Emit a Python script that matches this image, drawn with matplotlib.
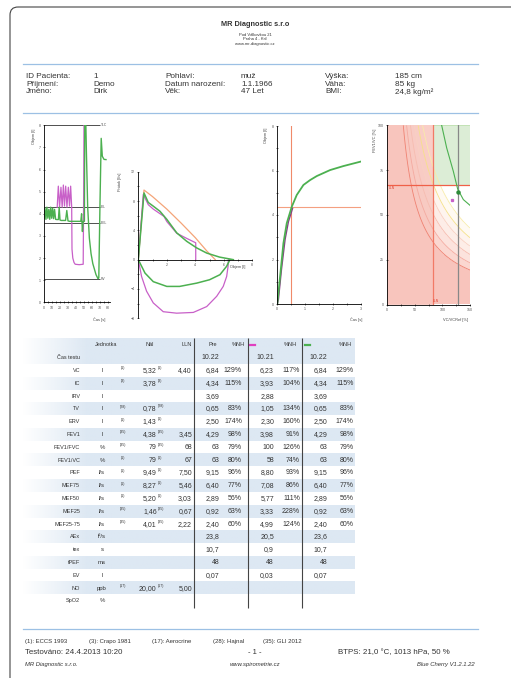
import numpy as np
import matplotlib.pyplot as plt
from matplotlib.patches import FancyBboxPatch

plt.rcParams['font.family'] = ['Liberation Sans', 'DejaVu Sans']

W, H = 511, 678

# ---- header data
company = "MR Diagnostic s.r.o"
address = ["Pod Válkovkou 21", "Praha 4 - Krč", "www.mr-diagnostic.cz"]
patient = [
    ["ID Pacienta:", "1", "Pohlaví:", "muž", "Výška:", "185 cm"],
    ["Příjmení:", "Demo", "Datum narození:", "1.1.1966", "Váha:", "85 kg"],
    ["Jméno:", "Dirk", "Věk:", "47 Let", "BMI:", "24,8 kg/m²"],
]

# ---- volume-time, whole test
vt_green_t = [0, 1.2, 2.4, 3.6, 4.8, 6, 7.2, 8.4, 9.6, 10.8, 12, 13.2, 14.5, 16, 18,
              19, 20, 21.5, 24, 27, 28.5, 30, 32, 36, 40, 44, 46, 47, 48, 49, 50.5,
              51, 52, 53, 54.6, 56.7, 58.8, 61, 63, 65, 67.5, 68.5, 70, 71.5, 72.9,
              75, 77.5]
vt_green_v = [3.8, 4.25, 3.75, 4.3, 3.8, 4.2, 3.75, 4.3, 3.8, 4.25, 3.78, 4.2, 3.75,
              3.74, 3.74, 4.3, 3.72, 3.7, 3.7, 3.7, 4.15, 3.68, 3.66, 3.66, 3.66, 3.66,
              3.66, 4.0, 3.2, 3.66, 3.66, 8.6, 8.6, 6.8, 4.3, 2.9, 2.2, 1.75, 1.5, 1.25,
              1.07, 1.1, 4.5, 7.41, 6.6, 6.46, 6.45]
vt_mag_t = [16.5, 17.9, 19.5, 21.2, 22.7, 24.2, 25.6, 27.1, 28.7, 30.4, 31.9, 33.3,
            34.6, 35.0, 36.0, 37.5, 39.0, 44.0, 49.0, 49.6, 50.0]
vt_mag_v = [4.3, 5.25, 4.3, 5.2, 4.3, 5.3, 4.35, 5.25, 4.3, 5.2, 4.35, 5.25, 4.3,
            2.4, 2.0, 1.8, 1.72, 1.7, 1.72, 5.0, 8.6]
vt_levels = [8.0, 4.3, 3.6, 1.05]
vt_level_names = ["TLC", "EIL", "EEL", "RV"]

# ---- flow-volume
fv_pred_vol = [0, 0.4, 1.0, 2.0, 3.0, 4.0, 4.8, 5.4]
fv_pred_flow = [0, 9.5, 8.6, 6.9, 5.0, 3.0, 1.2, 0.0]
fv_green_ex_vol = [0, 0.4, 0.7, 1.05, 1.52, 2.0, 2.7, 3.4, 4.1, 4.8, 5.7, 6.67]
fv_green_ex_flow = [0, 9.1, 7.8, 7.3, 6.6, 5.5, 3.65, 2.5, 1.6, 0.9, 0.35, 0]
fv_green_in_vol = [0, 0.47, 1.05, 2.0, 2.9, 4.1, 5.0, 5.73, 6.2, 6.43]
fv_green_in_flow = [0, -1.83, -3.0, -3.65, -3.65, -3.2, -2.74, -2.05, -0.9, 0]
fv_mag_ex_vol = [0, 0.35, 0.7, 1.05, 1.5, 1.8, 2.0, 2.7, 3.4, 4.03, 4.03]
fv_mag_ex_flow = [0, 8.9, 7.5, 6.9, 6.3, 5.9, 5.2, 3.6, 2.9, 2.3, 0]
fv_mag_in_vol = [0, 0.23, 0.58, 1.05, 1.75, 2.69, 3.86, 4.8, 5.5, 5.96, 6.2, 6.3, 6.32]
fv_mag_in_flow = [0, -2.3, -4.3, -5.9, -7.1, -7.3, -7.2, -6.4, -5.0, -3.65, -2.3, -0.9, 0]

# ---- volume-time, first seconds
ts_green_t = [0, 0.1, 0.22, 0.34, 0.52, 0.7, 0.94, 1.18, 1.42, 1.9, 2.38, 3.0]
ts_green_v = [0, 1.23, 2.73, 3.63, 4.37, 4.9, 5.35, 5.57, 5.75, 6.02, 6.2, 6.4]
ts_mag_t = [0, 0.04, 0.15, 0.28, 0.4, 0.55]
ts_mag_v = [0, 0.2, 1.55, 2.9, 3.7, 4.3]
ts_t_mark = 0.5
ts_v_mark = 4.37

# ---- FEV1/VC vs VC/VCRef
vc_lln = 82
ratio_lln = 67
band_levels = [0, 2900, 3500, 4200, 4900, 5600, 6400, 1e6]
band_colors = ['#f8c4bc', '#fbd7d0', '#fce3dd', '#fdede7', '#fef4ee', '#fffaf2', '#ffffff']
line_levels = [2900, 3500, 4200, 4900, 5600, 6400]
line_colors = ['#ef8272', '#f4aaa0', '#f6bcb0', '#f8d0c2', '#f5e08a', '#f8eba8']
curve_x = [98.6, 107.7, 119.8, 127.6, 137.9, 150]
curve_y = [100, 87.4, 74.3, 64.5, 58.6, 55.4]
pt_green = (127.6, 62.8)
pt_mag = (116.7, 58.2)

# ---- result table
row_labels = ["Čas testu", "VC", "IC", "IRV", "TV", "ERV", "FEV1", "FEV1/FVC",
              "FEV1/VC", "PEF", "MEF75", "MEF50", "MEF25", "MEF25-75", "AEx",
              "tex", "tPEF", "EV", "NO", "SpO2"]
units = ["", "l", "l", "l", "l", "l", "l", "%", "%", "l/s", "l/s", "l/s", "l/s",
         "l/s", "l²/s", "s", "ms", "l", "ppb", "%"]
refs = ["", "(1)", "(3)", "", "(28)", "(1)", "(35)", "(35)", "(1)", "(1)", "(1)",
        "(1)", "(35)", "(35)", "", "", "", "", "(17)", ""]
nal = ["", "5,32", "3,78", "", "0,78", "1,43", "4,38", "79", "79", "9,49", "8,27",
       "5,20", "1,46", "4,01", "", "", "", "", "20,00", ""]
lln = ["", "4,40", "", "", "", "", "3,45", "68", "67", "7,50", "5,46", "3,03",
       "0,67", "2,22", "", "", "", "", "5,00", ""]
pre = ["10.22", "6,84", "4,34", "3,69", "0,65", "2,50", "4,29", "63", "63", "9,15",
       "6,40", "2,89", "0,92", "2,40", "23,8", "10,7", "48", "0,07", "", ""]
pre_pct = ["", "129%", "115%", "", "83%", "174%", "98%", "79%", "80%", "96%", "77%",
           "56%", "63%", "60%", "", "", "", "", "", ""]
mag = ["10.21", "6,23", "3,93", "2,88", "1,05", "2,30", "3,98", "100", "58", "8,80",
       "7,08", "5,77", "3,33", "4,99", "20,5", "0,9", "48", "0,03", "", ""]
mag_pct = ["", "117%", "104%", "", "134%", "160%", "91%", "126%", "74%", "93%",
           "86%", "111%", "228%", "124%", "", "", "", "", "", ""]
grn = ["10.22", "6,84", "4,34", "3,69", "0,65", "2,50", "4,29", "63", "63", "9,15",
       "6,40", "2,89", "0,92", "2,40", "23,6", "10,7", "48", "0,07", "", ""]
grn_pct = ["", "129%", "115%", "", "83%", "174%", "98%", "79%", "80%", "96%", "77%",
           "56%", "63%", "60%", "", "", "", "", "", ""]

ref_notes = ["(1): ECCS 1993", "(3): Crapo 1981", "(17): Aerocrine", "(28): Hajnal",
             "(35): GLI 2012"]

GREEN = '#4cb050'
MAGENTA = '#c860c8'
ORANGE = '#f4a478'
BLUE_LINE = '#9cc0e4'
TXT = '#333333'

fig = plt.figure(figsize=(W / 100, H / 100), dpi=100)
page = fig.add_axes([0, 0, 1, 1])
page.set_xlim(0, W)
page.set_ylim(H, 0)
page.axis('off')

# page frame
page.add_patch(FancyBboxPatch((10, 7), 540, 700, boxstyle="round,pad=0,rounding_size=8",
                              fc='none', ec='#444444', lw=0.8))

page.text(255, 24, company, fontsize=5.3, fontweight='bold', ha='center', va='center', color=TXT)
for i, line in enumerate(address):
    page.text(255, 35 + i * 4.3, line, fontsize=3, ha='center', va='center', color=TXT)

for y in [64, 113, 629]:
    page.plot([23, 478], [y, y], color=BLUE_LINE, lw=0.9)

col_x = [26, 93, 165, 241, 325, 395]
for r, row in enumerate(patient):
    for c, val in enumerate(row):
        page.text(col_x[c], 76.5 + r * 7.6, val, fontsize=5.9, va='center', color=TXT)


def px_axes(x0, y0, x1, y1):
    return fig.add_axes([x0 / W, 1 - y1 / H, (x1 - x0) / W, (y1 - y0) / H])


def style_axes(ax):
    for s in ['top', 'right']:
        ax.spines[s].set_visible(False)
    for s in ['left', 'bottom']:
        ax.spines[s].set_linewidth(0.6)
    ax.tick_params(which='both', labelsize=2.6, length=2, width=0.4, pad=1.5,
                   labelcolor='#555555', direction='inout')
    ax.tick_params(which='minor', length=1.5)
    ax.patch.set_alpha(0)


# panel 1: volume-time whole test
ax1 = px_axes(44, 125.3, 110, 302.3)
style_axes(ax1)
ax1.set_xlim(0, 82.5)
ax1.set_ylim(0, 8)
ax1.set_xticks(range(0, 81, 10))
ax1.set_xticks(range(5, 81, 10), minor=True)
ax1.set_yticks(range(0, 9))
ax1.hlines(vt_levels, 0, 70, color='#333333', lw=0.6)
for lvl, name in zip(vt_levels, vt_level_names):
    ax1.text(71.5, lvl, name, fontsize=2.4, va='center', color='#555555', clip_on=False)
ax1.plot(vt_mag_t, vt_mag_v, color=MAGENTA, lw=0.9)
ax1.plot(vt_green_t, vt_green_v, color=GREEN, lw=1.0)
page.text(34, 136, "Objem [l]", fontsize=2.8, rotation=90, ha='center', va='center', color='#444444')
page.text(99, 320, "Čas [s]", fontsize=2.8, ha='center', va='center', color='#444444')

# panel 2: flow-volume
ax2 = px_axes(138.3, 171.7, 252.3, 318.3)
style_axes(ax2)
ax2.set_xlim(0, 8)
ax2.set_ylim(-8, 12)
ax2.spines['bottom'].set_position(('data', 0))
ax2.set_xticks(range(0, 9, 2))
ax2.set_xticklabels(['', '2', '4', '6', '8'])
ax2.set_xticks(range(1, 9, 2), minor=True)
ax2.set_yticks(range(-8, 13, 4))
ax2.set_yticks(range(-6, 13, 4), minor=True)
ax2.plot(fv_pred_vol, fv_pred_flow, color=ORANGE, lw=0.9)
ax2.plot(fv_mag_ex_vol, fv_mag_ex_flow, color=MAGENTA, lw=0.9)
ax2.plot(fv_mag_in_vol, fv_mag_in_flow, color=MAGENTA, lw=0.9)
ax2.plot(fv_green_ex_vol, fv_green_ex_flow, color=GREEN, lw=1.1)
ax2.plot(fv_green_in_vol, fv_green_in_flow, color=GREEN, lw=1.1)
page.text(120, 182, "Průtok [l/s]", fontsize=2.8, rotation=90, ha='center', va='center', color='#444444')
page.text(238, 267, "Objem [l]", fontsize=2.8, ha='center', va='center', color='#444444')

# panel 3: first seconds
ax3 = px_axes(277.3, 126, 360.7, 304)
style_axes(ax3)
ax3.set_xlim(0, 3)
ax3.set_ylim(0, 8)
ax3.set_xticks([0, 1, 2, 3])
ax3.set_xticks([0.5, 1.5, 2.5], minor=True)
ax3.set_yticks([0, 2, 4, 6, 8])
ax3.set_yticks([1, 3, 5, 7], minor=True)
ax3.axvline(ts_t_mark, color='#f08a6a', lw=0.8)
ax3.axhline(ts_v_mark, color='#f4a080', lw=0.8)
ax3.plot(ts_mag_t, ts_mag_v, color='#8a3a8a', lw=1.0)
ax3.plot(ts_green_t, ts_green_v, color=GREEN, lw=1.3)
page.text(266, 135, "Objem [l]", fontsize=2.8, rotation=90, ha='center', va='center', color='#444444')
page.text(356, 320, "Čas [s]", fontsize=2.8, ha='center', va='center', color='#444444')

# panel 4: FEV1/VC vs VC
ax4 = px_axes(387.3, 125.3, 470, 304.7)
style_axes(ax4)
ax4.set_xlim(0, 150)
ax4.set_ylim(0, 100)
gx, gy = np.meshgrid(np.linspace(0.5, 150, 300), np.linspace(0.5, 100, 200))
ax4.contourf(gx, gy, gx * gy, levels=band_levels, colors=band_colors)
ax4.contour(gx, gy, gx * gy, levels=line_levels, colors=line_colors, linewidths=0.6)
ax4.axvspan(0, vc_lln, color='#f8c6be', alpha=0.85, lw=0)
ax4.fill_between([vc_lln, 150], ratio_lln, 100, color='#d4e9cc', alpha=0.8, lw=0)
ax4.axhline(100, xmin=vc_lln / 150, color='#bfe0b0', lw=0.6)
ax4.axvline(vc_lln, color='#f27a66', lw=0.9)
ax4.axhline(ratio_lln, color='#f06048', lw=0.9)
ax4.axvline(pt_green[0], color='#888888', lw=0.9)
ax4.plot(curve_x, curve_y, color=GREEN, lw=0.8)
ax4.plot(*pt_green, 'o', color='#2e8b3a', ms=2.2)
ax4.plot(*pt_mag, 's', color=MAGENTA, ms=1.4)
ax4.text(2, ratio_lln - 1, "LLN", fontsize=2.4, color='#e04030', va='top')
ax4.text(vc_lln + 1, 1, "LLN", fontsize=2.4, color='#e04030', va='bottom')
ax4.set_xticks([0, 50, 100, 150])
ax4.set_xticks([25, 75, 125], minor=True)
ax4.set_yticks([0, 25, 50, 75, 100])
page.text(375, 140, "FEV1/VC [%]", fontsize=2.8, rotation=90, ha='center', va='center', color='#444444')
page.text(456, 320, "VC/VCRef [%]", fontsize=2.8, ha='center', va='center', color='#444444')

# ---- result table
row_y0, row_dy = 357.7, 12.8
head_y = 345
xs = np.linspace(0, 1, 200)


def shade_row(yc):
    grad = np.ones((1, 200, 4))
    grad[..., :3] = np.array([0xdd, 0xe8, 0xf3]) / 255
    grad[..., 3] = np.clip((xs * 333) / 65, 0, 1)
    page.imshow(grad, extent=[22, 355, yc + row_dy / 2, yc - row_dy / 2],
                aspect='auto', interpolation='bilinear', zorder=0)


shade_row(head_y)
for i in range(len(row_labels)):
    if i % 2 == 0:
        shade_row(row_y0 + i * row_dy)

fs_h = 4.0
page.text(106, head_y, "Jednotka", fontsize=fs_h, ha='center', va='center', color=TXT)
page.text(150, head_y, "Nál", fontsize=fs_h, ha='center', va='center', color=TXT)
page.text(187, head_y, "LLN", fontsize=fs_h, ha='center', va='center', color=TXT)
page.text(213, head_y, "Pre", fontsize=fs_h, ha='center', va='center', color=TXT)
page.text(238, head_y, "%NH", fontsize=fs_h, ha='center', va='center', color=TXT)
page.text(290, head_y, "%NH", fontsize=fs_h, ha='center', va='center', color=TXT)
page.text(345, head_y, "%NH", fontsize=fs_h, ha='center', va='center', color=TXT)
page.plot([250, 255], [head_y, head_y], color='#e040c0', lw=1.6)
page.plot([305, 310], [head_y, head_y], color=GREEN, lw=1.6)

fs_v = 5.0
for i, lab in enumerate(row_labels):
    y = row_y0 + i * row_dy
    page.text(80, y, lab, fontsize=4.0, ha='right', va='center', color=TXT)
    page.text(102, y, units[i], fontsize=4.3, ha='center', va='center', color=TXT)
    if refs[i]:
        page.text(123, y - 2, refs[i], fontsize=2.6, ha='center', va='center', color=TXT)
        page.text(158, y - 2.5, refs[i], fontsize=2.6, ha='left', va='center', color=TXT)
    page.text(156.7, y, nal[i], fontsize=fs_v, ha='right', va='center', color=TXT)
    page.text(192, y, lln[i], fontsize=fs_v, ha='right', va='center', color=TXT)
    page.text(219.5, y, pre[i], fontsize=fs_v, ha='right', va='center', color=TXT)
    page.text(242, y, pre_pct[i], fontsize=fs_v, ha='right', va='center', color=TXT)
    page.text(274, y, mag[i], fontsize=fs_v, ha='right', va='center', color=TXT)
    page.text(300, y, mag_pct[i], fontsize=fs_v, ha='right', va='center', color=TXT)
    page.text(327.5, y, grn[i], fontsize=fs_v, ha='right', va='center', color=TXT)
    page.text(353.5, y, grn_pct[i], fontsize=fs_v, ha='right', va='center', color=TXT)

page.vlines([194, 248, 302], 338, 608, color='#444444', lw=0.8)

# ---- footer
note_x = [25, 89, 152, 213, 263]
for x, note in zip(note_x, ref_notes):
    page.text(x, 641, note, fontsize=4.3, va='center', color=TXT)
page.text(25, 653, "Testováno: 24.4.2013 10:20", fontsize=5.7, va='center', color=TXT)
page.text(255, 653, "- 1 -", fontsize=5.5, ha='center', va='center', color=TXT)
page.text(338, 653, "BTPS: 21,0 °C, 1013 hPa, 50 %", fontsize=5.7, va='center', color=TXT)
page.text(25, 664.5, "MR Diagnostic s.r.o.", fontsize=4.2, style='italic', va='center', color=TXT)
page.text(255, 664.5, "www.spirometrie.cz", fontsize=4.2, style='italic', ha='center', va='center', color=TXT)
page.text(475, 664.5, "Blue Cherry V1.2.1.22", fontsize=4.2, style='italic', ha='right', va='center', color=TXT)

page.set_xlim(0, W)
page.set_ylim(H, 0)

fig.savefig("out.png", dpi=100)
